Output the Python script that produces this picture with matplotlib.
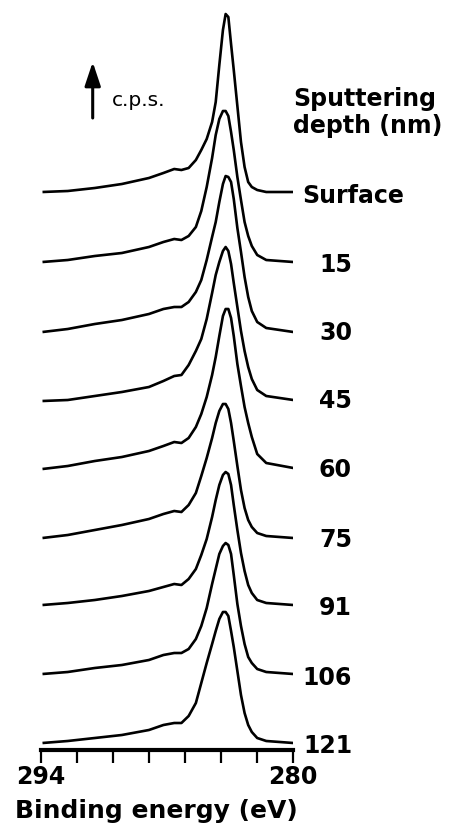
import numpy as np
import matplotlib
matplotlib.use("Agg")
import matplotlib.pyplot as plt

# binding energy grid (eV) shared by all spectra
energy = [293.9, 292.5, 291.0, 289.5, 288.0, 287.2, 286.6, 286.2, 285.8, 285.4,
          285.1, 284.8, 284.5, 284.3, 284.1, 283.9, 283.75, 283.6, 283.45, 283.3,
          283.1, 282.9, 282.7, 282.5, 282.3, 282.0, 281.5, 280.0]

# sputtering depth labels, top to bottom
depths = ["Surface", "15", "30", "45", "60", "75", "91", "106", "121"]

# intensity above each baseline (arb. c.p.s.)
surface = [0, 1, 4, 8, 14, 19, 23, 22, 24, 32, 42, 53, 70, 90, 127, 162, 178, 175,
           148, 122, 86, 50, 25, 10, 5, 2, 0, 0]
d15 = [0, 2, 6, 9, 15, 20, 23, 22, 26, 35, 51, 75, 104, 127, 143, 151, 151, 146,
       130, 112, 85, 62, 40, 26, 16, 7, 2, 0]
d30 = [0, 3, 8, 12, 18, 23, 25, 25, 30, 40, 52, 72, 95, 110, 130, 148, 156, 155,
       150, 133, 104, 80, 55, 35, 21, 10, 4, 0]
d45 = [0, 1, 5, 9, 14, 20, 25, 26, 36, 50, 62, 82, 108, 126, 139, 150, 154, 150,
       137, 118, 94, 70, 50, 34, 22, 11, 5, 1]
d60 = [0, 3, 8, 12, 18, 23, 27, 26, 31, 42, 55, 72, 94, 112, 133, 153, 160, 160,
       151, 133, 105, 83, 62, 46, 32, 15, 6, 1]
d75 = [0, 3, 8, 13, 19, 24, 27, 26, 33, 45, 62, 80, 100, 115, 127, 134, 134, 129,
       115, 97, 72, 48, 30, 18, 11, 5, 2, 0]
d91 = [0, 2, 5, 9, 14, 18, 21, 20, 26, 36, 50, 66, 88, 105, 120, 130, 133, 131,
       120, 100, 75, 52, 34, 20, 12, 5, 2, 0]
d106 = [0, 2, 6, 9, 14, 19, 21, 21, 25, 35, 48, 66, 90, 105, 120, 128, 131, 129,
        120, 99, 70, 48, 30, 17, 11, 5, 2, 0]
d121 = [0, 2, 5, 8, 13, 18, 20, 20, 27, 40, 60, 80, 99, 112, 124, 131, 131, 127,
        112, 96, 72, 48, 30, 18, 11, 5, 2, 0]
spectra = [surface, d15, d30, d45, d60, d75, d91, d106, d121]

# vertical stacking offsets
offsets = [558, 488, 418, 349, 281, 212, 145, 76, 7]

W, H = 453, 832
fig = plt.figure(figsize=(W / 100, H / 100), dpi=100)
ax = fig.add_axes([40.7 / W, 82 / H, (293.3 - 40.7) / W, 750 / H])
ax.set_xlim(294, 280)
ax.set_ylim(0, 750)

for s, off in zip(spectra, offsets):
    ax.plot(energy, np.array(s) + off, color="black", lw=1.9,
            solid_joinstyle="round", solid_capstyle="butt")

for side in ["top", "left", "right"]:
    ax.spines[side].set_visible(False)
ax.spines["bottom"].set_linewidth(3)
ax.set_yticks([])
ticks = np.arange(294, 279, -2)
ax.set_xticks(ticks)
ax.set_xticklabels([str(t) if t in (294, 280) else "" for t in ticks])
ax.tick_params(axis="x", direction="out", length=9, width=1.6, pad=2,
               labelsize=17)
for lab in ax.get_xticklabels():
    lab.set_fontweight("bold")

def px(x, y):
    return x / W, 1 - y / H

bold = dict(fontsize=17, fontweight="bold", color="black")

# depth labels
fig.text(*px(302, 203), depths[0], ha="left", va="baseline", **bold)
baselines = [272, 340, 408, 477, 547, 615, 685, 753]
for lab, yb in zip(depths[1:], baselines):
    fig.text(*px(352, yb), lab, ha="right", va="baseline", **bold)

fig.text(*px(293, 106), "Sputtering", ha="left", va="baseline", **bold)
fig.text(*px(293, 133), "depth (nm)", ha="left", va="baseline", **bold)
fig.text(*px(112, 106), "c.p.s.", ha="left", va="baseline", fontsize=14.5)
fig.text(*px(15, 818), "Binding energy (eV)", ha="left", va="baseline",
         fontsize=18, fontweight="bold")

ax.annotate("", xy=px(92.7, 62), xytext=px(92.7, 118),
            xycoords="figure fraction", textcoords="figure fraction",
            arrowprops=dict(arrowstyle="-|>,head_width=0.3,head_length=0.9",
                            lw=2.2, color="black", mutation_scale=16,
                            shrinkA=0, shrinkB=0))

fig.savefig("out.png", dpi=100)
